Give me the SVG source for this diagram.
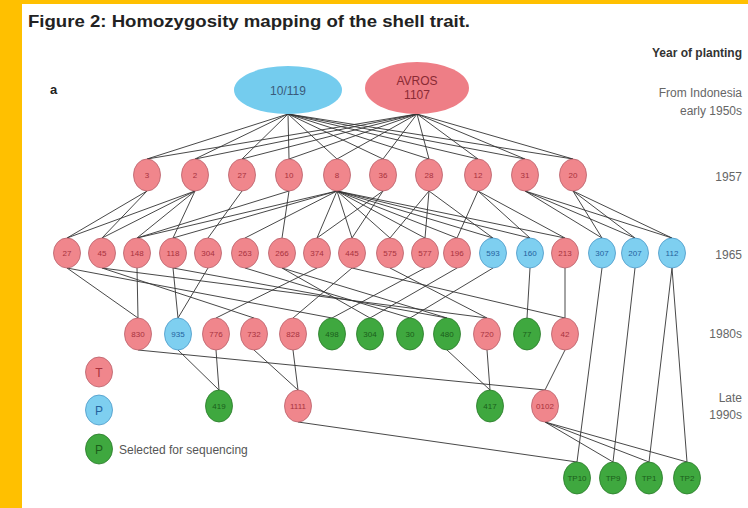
<svg xmlns="http://www.w3.org/2000/svg" width="748" height="508" viewBox="0 0 748 508">
<style>
.pk{fill:#F0868C;stroke:#B8606A;stroke-width:0.8}
.bl{fill:#7ECFF0;stroke:#4A98C8;stroke-width:0.8}
.gr{fill:#3FA83F;stroke:#2A7A2A;stroke-width:0.8}
.t{font-family:"Liberation Sans",Arial,sans-serif;font-size:8px;text-anchor:middle}
.tp{fill:#A8323E}
.tb{fill:#24629E}
.tg{fill:#1B5E1B}
.lab{font-family:"Liberation Sans",Arial,sans-serif;font-size:12px;fill:#666;text-anchor:end}
#connectors line{stroke:#333;stroke-width:0.9}
</style>
<rect x="0" y="0" width="748" height="508" fill="#FFC000"/>
<rect x="22" y="4" width="726" height="504" fill="#ffffff"/>
<text x="28" y="27" font-family="Liberation Sans,Arial,sans-serif" font-weight="bold" font-size="17" fill="#222" textLength="442" lengthAdjust="spacingAndGlyphs">Figure 2: Homozygosity mapping of the shell trait.</text>
<text x="742" y="57" font-family="Liberation Sans,Arial,sans-serif" font-weight="bold" font-size="12" fill="#333" text-anchor="end">Year of planting</text>
<text x="50" y="94" font-family="Liberation Sans,Arial,sans-serif" font-weight="bold" font-size="13" fill="#222">a</text>
<text class="lab" x="742" y="97">From Indonesia</text>
<text class="lab" x="742" y="115">early 1950s</text>
<text class="lab" x="742" y="181">1957</text>
<text class="lab" x="742" y="259">1965</text>
<text class="lab" x="742" y="338">1980s</text>
<text class="lab" x="742" y="402">Late</text>
<text class="lab" x="742" y="419">1990s</text>

<g id="connectors">
<line x1="288" y1="114" x2="147" y2="159"/><line x1="288" y1="114" x2="195" y2="159"/><line x1="288" y1="114" x2="242" y2="159"/><line x1="288" y1="114" x2="289" y2="159"/><line x1="288" y1="114" x2="337" y2="159"/><line x1="288" y1="114" x2="383" y2="159"/><line x1="288" y1="114" x2="429" y2="159"/><line x1="288" y1="114" x2="478" y2="159"/><line x1="288" y1="114" x2="525" y2="159"/><line x1="288" y1="114" x2="573" y2="159"/>
<line x1="417" y1="114" x2="147" y2="159"/><line x1="417" y1="114" x2="195" y2="159"/><line x1="417" y1="114" x2="242" y2="159"/><line x1="417" y1="114" x2="289" y2="159"/><line x1="417" y1="114" x2="337" y2="159"/><line x1="417" y1="114" x2="383" y2="159"/><line x1="417" y1="114" x2="429" y2="159"/><line x1="417" y1="114" x2="478" y2="159"/><line x1="417" y1="114" x2="525" y2="159"/><line x1="417" y1="114" x2="573" y2="159"/>

<line x1="147" y1="191" x2="67" y2="238"/><line x1="147" y1="191" x2="102" y2="238"/>
<line x1="195" y1="191" x2="67" y2="238"/><line x1="195" y1="191" x2="102" y2="238"/><line x1="195" y1="191" x2="137" y2="238"/><line x1="195" y1="191" x2="173" y2="238"/>
<line x1="242" y1="191" x2="208" y2="238"/>
<line x1="289" y1="191" x2="282" y2="238"/><line x1="289" y1="191" x2="137" y2="238"/>
<line x1="337" y1="191" x2="137" y2="238"/><line x1="337" y1="191" x2="173" y2="238"/><line x1="337" y1="191" x2="245" y2="238"/><line x1="337" y1="191" x2="317" y2="238"/><line x1="337" y1="191" x2="352" y2="238"/><line x1="337" y1="191" x2="390" y2="238"/><line x1="337" y1="191" x2="425" y2="238"/><line x1="337" y1="191" x2="457" y2="238"/><line x1="337" y1="191" x2="493" y2="238"/><line x1="337" y1="191" x2="530" y2="238"/><line x1="337" y1="191" x2="565" y2="238"/>
<line x1="383" y1="191" x2="317" y2="238"/><line x1="383" y1="191" x2="352" y2="238"/>
<line x1="429" y1="191" x2="390" y2="238"/><line x1="429" y1="191" x2="425" y2="238"/><line x1="429" y1="191" x2="493" y2="238"/>
<line x1="478" y1="191" x2="457" y2="238"/><line x1="478" y1="191" x2="530" y2="238"/><line x1="478" y1="191" x2="565" y2="238"/>
<line x1="525" y1="191" x2="602" y2="238"/><line x1="525" y1="191" x2="635" y2="238"/><line x1="525" y1="191" x2="672" y2="238"/>
<line x1="573" y1="191" x2="602" y2="238"/><line x1="573" y1="191" x2="635" y2="238"/><line x1="573" y1="191" x2="672" y2="238"/>

<line x1="67" y1="268" x2="138" y2="318"/><line x1="67" y1="268" x2="332" y2="318"/>
<line x1="102" y1="268" x2="254" y2="318"/><line x1="102" y1="268" x2="487" y2="318"/>
<line x1="137" y1="268" x2="138" y2="318"/>
<line x1="173" y1="268" x2="178" y2="318"/><line x1="173" y1="268" x2="447" y2="318"/>
<line x1="208" y1="268" x2="178" y2="318"/>
<line x1="245" y1="268" x2="410" y2="318"/>
<line x1="282" y1="268" x2="370" y2="318"/><line x1="282" y1="268" x2="447" y2="318"/>
<line x1="317" y1="268" x2="216" y2="318"/>
<line x1="352" y1="268" x2="293" y2="318"/><line x1="352" y1="268" x2="565" y2="318"/>
<line x1="390" y1="268" x2="487" y2="318"/>
<line x1="425" y1="268" x2="332" y2="318"/>
<line x1="457" y1="268" x2="370" y2="318"/>
<line x1="493" y1="268" x2="410" y2="318"/>
<line x1="530" y1="268" x2="527" y2="318"/>
<line x1="565" y1="268" x2="565" y2="318"/>
<line x1="602" y1="268" x2="577" y2="462"/>
<line x1="635" y1="268" x2="613" y2="462"/>
<line x1="672" y1="268" x2="649" y2="462"/><line x1="672" y1="268" x2="687" y2="462"/>

<line x1="178" y1="350" x2="219" y2="390"/>
<line x1="216" y1="350" x2="219" y2="390"/>
<line x1="254" y1="350" x2="298" y2="390"/>
<line x1="293" y1="350" x2="298" y2="390"/>
<line x1="447" y1="350" x2="490" y2="390"/>
<line x1="487" y1="350" x2="490" y2="390"/>
<line x1="565" y1="350" x2="545" y2="390"/>
<line x1="138" y1="350" x2="545" y2="390"/>

<line x1="298" y1="422" x2="577" y2="462"/>
<line x1="545" y1="422" x2="613" y2="462"/><line x1="545" y1="422" x2="649" y2="462"/><line x1="545" y1="422" x2="687" y2="462"/>
</g>

<g id="p-10-119"><ellipse cx="288" cy="90" rx="54" ry="24" fill="#74CCEE"/><text x="288" y="95" font-family="Liberation Sans,Arial,sans-serif" font-size="12" fill="#3A5A7A" text-anchor="middle">10/119</text></g>
<g id="p-avros-1107"><ellipse cx="417" cy="88" rx="52" ry="26" fill="#EE7E86"/><text x="417" y="85" font-family="Liberation Sans,Arial,sans-serif" font-size="12" fill="#8A2A34" text-anchor="middle">AVROS</text><text x="417" y="99" font-family="Liberation Sans,Arial,sans-serif" font-size="12" fill="#8A2A34" text-anchor="middle">1107</text></g>

<g id="n57-3"><ellipse class="pk" cx="147" cy="175" rx="13.5" ry="16"/><text class="t tp" x="147" y="178">3</text></g>
<g id="n57-2"><ellipse class="pk" cx="195" cy="175" rx="13.5" ry="16"/><text class="t tp" x="195" y="178">2</text></g>
<g id="n57-27"><ellipse class="pk" cx="242" cy="175" rx="13.5" ry="16"/><text class="t tp" x="242" y="178">27</text></g>
<g id="n57-10"><ellipse class="pk" cx="289" cy="175" rx="13.5" ry="16"/><text class="t tp" x="289" y="178">10</text></g>
<g id="n57-8"><ellipse class="pk" cx="337" cy="175" rx="13.5" ry="16"/><text class="t tp" x="337" y="178">8</text></g>
<g id="n57-36"><ellipse class="pk" cx="383" cy="175" rx="13.5" ry="16"/><text class="t tp" x="383" y="178">36</text></g>
<g id="n57-28"><ellipse class="pk" cx="429" cy="175" rx="13.5" ry="16"/><text class="t tp" x="429" y="178">28</text></g>
<g id="n57-12"><ellipse class="pk" cx="478" cy="175" rx="13.5" ry="16"/><text class="t tp" x="478" y="178">12</text></g>
<g id="n57-31"><ellipse class="pk" cx="525" cy="175" rx="13.5" ry="16"/><text class="t tp" x="525" y="178">31</text></g>
<g id="n57-20"><ellipse class="pk" cx="573" cy="175" rx="13.5" ry="16"/><text class="t tp" x="573" y="178">20</text></g>

<g id="n65-27"><ellipse class="pk" cx="67" cy="253" rx="13.5" ry="15"/><text class="t tp" x="67" y="256">27</text></g>
<g id="n65-45"><ellipse class="pk" cx="102" cy="253" rx="13.5" ry="15"/><text class="t tp" x="102" y="256">45</text></g>
<g id="n65-148"><ellipse class="pk" cx="137" cy="253" rx="13.5" ry="15"/><text class="t tp" x="137" y="256">148</text></g>
<g id="n65-118"><ellipse class="pk" cx="173" cy="253" rx="13.5" ry="15"/><text class="t tp" x="173" y="256">118</text></g>
<g id="n65-304"><ellipse class="pk" cx="208" cy="253" rx="13.5" ry="15"/><text class="t tp" x="208" y="256">304</text></g>
<g id="n65-263"><ellipse class="pk" cx="245" cy="253" rx="13.5" ry="15"/><text class="t tp" x="245" y="256">263</text></g>
<g id="n65-266"><ellipse class="pk" cx="282" cy="253" rx="13.5" ry="15"/><text class="t tp" x="282" y="256">266</text></g>
<g id="n65-374"><ellipse class="pk" cx="317" cy="253" rx="13.5" ry="15"/><text class="t tp" x="317" y="256">374</text></g>
<g id="n65-445"><ellipse class="pk" cx="352" cy="253" rx="13.5" ry="15"/><text class="t tp" x="352" y="256">445</text></g>
<g id="n65-575"><ellipse class="pk" cx="390" cy="253" rx="13.5" ry="15"/><text class="t tp" x="390" y="256">575</text></g>
<g id="n65-577"><ellipse class="pk" cx="425" cy="253" rx="13.5" ry="15"/><text class="t tp" x="425" y="256">577</text></g>
<g id="n65-196"><ellipse class="pk" cx="457" cy="253" rx="13.5" ry="15"/><text class="t tp" x="457" y="256">196</text></g>
<g id="n65-593"><ellipse class="bl" cx="493" cy="253" rx="13.5" ry="15"/><text class="t tb" x="493" y="256">593</text></g>
<g id="n65-160"><ellipse class="bl" cx="530" cy="253" rx="13.5" ry="15"/><text class="t tb" x="530" y="256">160</text></g>
<g id="n65-213"><ellipse class="pk" cx="565" cy="253" rx="13.5" ry="15"/><text class="t tp" x="565" y="256">213</text></g>
<g id="n65-307"><ellipse class="bl" cx="602" cy="253" rx="13.5" ry="15"/><text class="t tb" x="602" y="256">307</text></g>
<g id="n65-207"><ellipse class="bl" cx="635" cy="253" rx="13.5" ry="15"/><text class="t tb" x="635" y="256">207</text></g>
<g id="n65-112"><ellipse class="bl" cx="672" cy="253" rx="13.5" ry="15"/><text class="t tb" x="672" y="256">112</text></g>

<g id="n80-830"><ellipse class="pk" cx="138" cy="334" rx="13.5" ry="16"/><text class="t tp" x="138" y="337">830</text></g>
<g id="n80-935"><ellipse class="bl" cx="178" cy="334" rx="13.5" ry="16"/><text class="t tb" x="178" y="337">935</text></g>
<g id="n80-776"><ellipse class="pk" cx="216" cy="334" rx="13.5" ry="16"/><text class="t tp" x="216" y="337">776</text></g>
<g id="n80-732"><ellipse class="pk" cx="254" cy="334" rx="13.5" ry="16"/><text class="t tp" x="254" y="337">732</text></g>
<g id="n80-828"><ellipse class="pk" cx="293" cy="334" rx="13.5" ry="16"/><text class="t tp" x="293" y="337">828</text></g>
<g id="n80-498"><ellipse class="gr" cx="332" cy="334" rx="13.5" ry="16"/><text class="t tg" x="332" y="337">498</text></g>
<g id="n80-304"><ellipse class="gr" cx="370" cy="334" rx="13.5" ry="16"/><text class="t tg" x="370" y="337">304</text></g>
<g id="n80-30"><ellipse class="gr" cx="410" cy="334" rx="13.5" ry="16"/><text class="t tg" x="410" y="337">30</text></g>
<g id="n80-480"><ellipse class="gr" cx="447" cy="334" rx="13.5" ry="16"/><text class="t tg" x="447" y="337">480</text></g>
<g id="n80-720"><ellipse class="pk" cx="487" cy="334" rx="13.5" ry="16"/><text class="t tp" x="487" y="337">720</text></g>
<g id="n80-77"><ellipse class="gr" cx="527" cy="334" rx="13.5" ry="16"/><text class="t tg" x="527" y="337">77</text></g>
<g id="n80-42"><ellipse class="pk" cx="565" cy="334" rx="13.5" ry="16"/><text class="t tp" x="565" y="337">42</text></g>

<g id="n90-419"><ellipse class="gr" cx="219" cy="406" rx="13.5" ry="16"/><text class="t tg" x="219" y="409">419</text></g>
<g id="n90-1111"><ellipse class="pk" cx="298" cy="406" rx="13.5" ry="16"/><text class="t tp" x="298" y="409">1111</text></g>
<g id="n90-417"><ellipse class="gr" cx="490" cy="406" rx="13.5" ry="16"/><text class="t tg" x="490" y="409">417</text></g>
<g id="n90-0102"><ellipse class="pk" cx="545" cy="406" rx="13.5" ry="16"/><text class="t tp" x="545" y="409">0102</text></g>

<g id="nb-TP10"><ellipse class="gr" cx="577" cy="478" rx="13.5" ry="16"/><text class="t tg" x="577" y="481">TP10</text></g>
<g id="nb-TP9"><ellipse class="gr" cx="613" cy="478" rx="13.5" ry="16"/><text class="t tg" x="613" y="481">TP9</text></g>
<g id="nb-TP1"><ellipse class="gr" cx="649" cy="478" rx="13.5" ry="16"/><text class="t tg" x="649" y="481">TP1</text></g>
<g id="nb-TP2"><ellipse class="gr" cx="687" cy="478" rx="13.5" ry="16"/><text class="t tg" x="687" y="481">TP2</text></g>

<g id="legend-T"><ellipse class="pk" cx="99" cy="372" rx="13.5" ry="15"/><text x="99" y="377" font-family="Liberation Sans,Arial,sans-serif" font-size="12" fill="#A8323E" text-anchor="middle">T</text></g>
<g id="legend-P-blue"><ellipse class="bl" cx="99" cy="410" rx="13.5" ry="15"/><text x="99" y="415" font-family="Liberation Sans,Arial,sans-serif" font-size="12" fill="#24629E" text-anchor="middle">P</text></g>
<g id="legend-P-green"><ellipse class="gr" cx="99" cy="449" rx="13.5" ry="15"/><text x="99" y="454" font-family="Liberation Sans,Arial,sans-serif" font-size="12" fill="#1B5E1B" text-anchor="middle">P</text><text x="119" y="454" font-family="Liberation Sans,Arial,sans-serif" font-size="12" fill="#555">Selected for sequencing</text></g>
</svg>
